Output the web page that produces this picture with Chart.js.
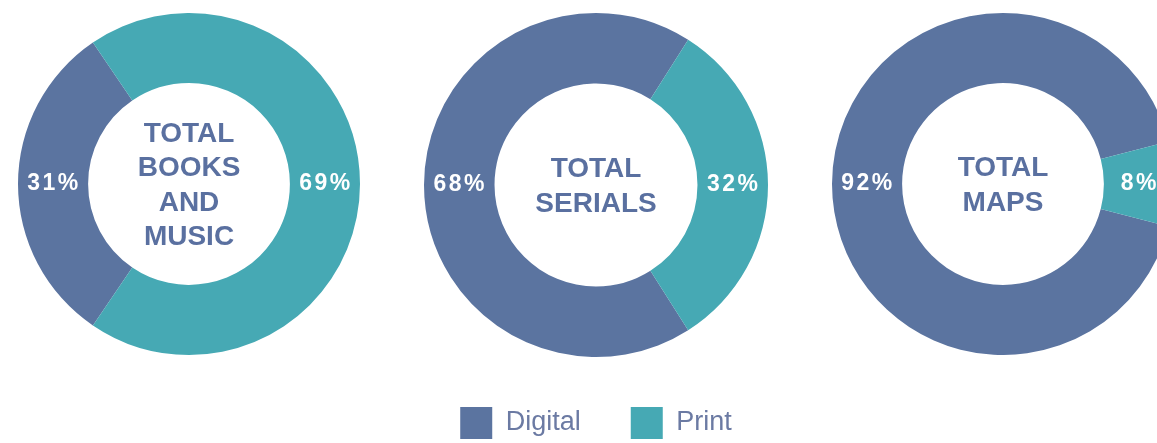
<!DOCTYPE html>
<html>
<head>
<meta charset="utf-8">
<script src="https://cdn.jsdelivr.net/npm/chart.js@4.4.1/dist/chart.umd.min.js"></script>
<style>
  html, body { margin: 0; padding: 0; background: #fff; }
  body { width: 1157px; height: 443px; overflow: hidden; position: relative; }
  .box { position: absolute; }
</style>
</head>
<body>
<div class="box" style="left:18px;top:13px;width:342px;height:342px"><canvas id="books"></canvas></div>
<div class="box" style="left:346px;top:13px;width:500px;height:436px"><canvas id="serials"></canvas></div>
<div class="box" style="left:832px;top:13px;width:342px;height:342px"><canvas id="maps"></canvas></div>
<script>
const categories = ["Digital", "Print"];
const books = [31, 69];
const serials = [68, 32];
const maps = [92, 8];
const titles = {
  books: ["TOTAL", "BOOKS", "AND", "MUSIC"],
  serials: ["TOTAL", "SERIALS"],
  maps: ["TOTAL", "MAPS"]
};

const DIGITAL = "#5b74a0";
const PRINT = "#46a9b4";

// centre title + white % labels in the ring
const donutText = {
  id: "donutText",
  afterDatasetsDraw(chart, args, opts) {
    const ctx = chart.ctx;
    const meta = chart.getDatasetMeta(0);
    const values = chart.data.datasets[0].data;
    ctx.save();
    ctx.textAlign = "center";
    ctx.textBaseline = "middle";
    ctx.fillStyle = "#fff";
    ctx.font = "bold 23px 'Liberation Sans', Arial, sans-serif";
    ctx.letterSpacing = "2.5px";
    meta.data.forEach((arc, i) => {
      const p = arc.getCenterPoint();
      ctx.fillText(values[i] + "%", p.x + 1, p.y);
    });
    const c = meta.data[0];
    const lines = opts.lines || [];
    const lh = 34.5;
    ctx.letterSpacing = "0px";
    ctx.fillStyle = "#5a70a0";
    ctx.font = "bold 28px 'Liberation Sans', Arial, sans-serif";
    lines.forEach((t, i) => {
      ctx.fillText(t, c.x, c.y + (i - (lines.length - 1) / 2) * lh + 2);
    });
    ctx.restore();
  }
};

function donut(id, values, lines, showLegend) {
  return new Chart(document.getElementById(id), {
    type: "doughnut",
    data: {
      labels: categories,
      datasets: [{
        data: values,
        backgroundColor: [DIGITAL, PRINT],
        borderWidth: 0
      }]
    },
    options: {
      responsive: true,
      maintainAspectRatio: false,
      animation: false,
      cutout: "59%",
      // digital slice centred on the left side
      rotation: 270 - values[0] * 1.8,
      layout: { padding: 0 },
      plugins: {
        tooltip: { enabled: false },
        donutText: { lines: lines },
        legend: {
          display: showLegend,
          position: "bottom",
          labels: {
            boxWidth: 32,
            boxHeight: 32,
            padding: 50,
            color: "#6b7aa3",
            font: { family: "'Liberation Sans', Arial, sans-serif", size: 27 }
          }
        }
      }
    },
    plugins: [donutText]
  });
}

donut("books", books, titles.books, false);
donut("serials", serials, titles.serials, true);
donut("maps", maps, titles.maps, false);
</script>
</body>
</html>
